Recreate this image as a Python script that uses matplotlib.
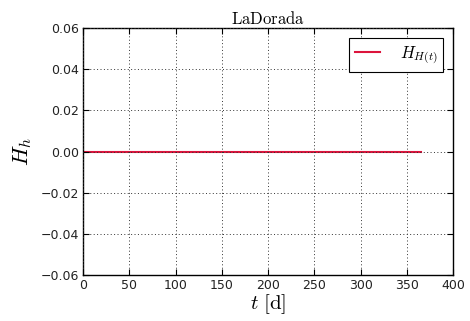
import numpy as np
import matplotlib
matplotlib.use("Agg")
import matplotlib.pyplot as plt

# series: H_h over one year at La Dorada
t = [0, 365]
h = [0.0, 0.0]
xticks = [0, 50, 100, 150, 200, 250, 300, 350, 400]
yticks = [-0.06, -0.04, -0.02, 0.00, 0.02, 0.04, 0.06]

plt.rcParams['mathtext.fontset'] = 'cm'
plt.rcParams['axes.unicode_minus'] = True
plt.rcParams['xtick.direction'] = 'in'
plt.rcParams['ytick.direction'] = 'in'
plt.rcParams['xtick.top'] = True
plt.rcParams['ytick.right'] = True

fig = plt.figure(figsize=(4.7, 3.21), dpi=100)
ax = fig.add_axes([0.177, 0.143, 0.787, 0.770])

ax.plot(t, h, color='#dc143c', lw=1.5, label=r'$H_{H(t)}$')

ax.set_xlim(0, 400)
ax.set_ylim(-0.06, 0.06)
ax.set_xticks(xticks)
ax.set_yticks(yticks)
ax.yaxis.set_major_formatter(plt.FuncFormatter(lambda v, p: ('%.2f' % v).replace('-', '\u2212')))
ax.tick_params(labelsize=9, labelcolor='#222222', length=4, width=0.8, pad=3)
ax.set_axisbelow(False)
ax.grid(True, color='#333333', linestyle=(0, (1, 2.5)), linewidth=0.7)
for s in ax.spines.values():
    s.set_linewidth(1.0)

ax.set_title(r'$\mathrm{LaDorada}$', fontsize=12, pad=3)
ax.set_xlabel(r'$t\ [\mathrm{d}]$', fontsize=15, labelpad=0)
ax.set_ylabel(r'$H_h$', fontsize=16, labelpad=5)

leg = ax.legend(loc='upper right', fancybox=False, fontsize=12, handlelength=1.5,
                borderpad=0.35, handletextpad=1.2, framealpha=1,
                borderaxespad=0.6)
leg.get_frame().set_edgecolor('black')
leg.get_frame().set_linewidth(0.8)

fig.savefig('out.png', dpi=100, facecolor='white')
